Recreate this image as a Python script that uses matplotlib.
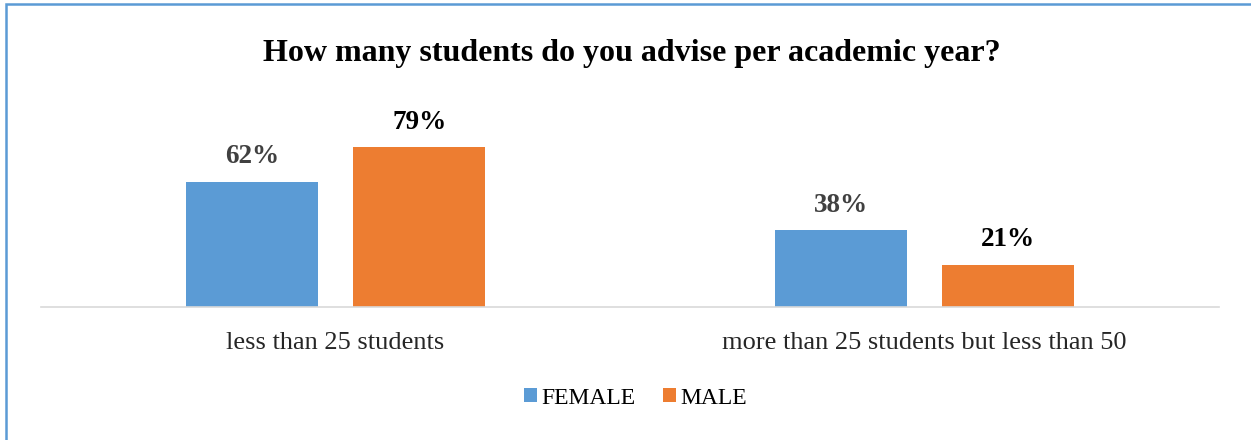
import matplotlib.pyplot as plt
from matplotlib.patches import Rectangle
import numpy as np

categorias = ['less than 25 students', 'more than 25 students but less than 50']
feminino = [62, 38]
masculino = [79, 21]
series = ['FEMALE', 'MALE']

plt.rcParams['font.family'] = ['Liberation Serif', 'DejaVu Serif']

fig = plt.figure(figsize=(12.51, 4.4), dpi=100)
ax = fig.add_axes([41 / 1251, 1 - 307 / 440, 1178 / 1251, 202 / 440])

x = np.arange(len(categorias))
largura = 0.223
desloc = 0.142
b1 = ax.bar(x - desloc, feminino, largura, color='#5B9BD5', label=series[0])
b2 = ax.bar(x + desloc, masculino, largura, color='#ED7D31', label=series[1])

for barra, v in zip(b1, feminino):
    ax.annotate(f'{v}%', (barra.get_x() + barra.get_width() / 2, v),
                textcoords='offset points', xytext=(0, 9), ha='center', va='bottom',
                fontsize=19.5, fontweight='bold', color='#404040')
for barra, v in zip(b2, masculino):
    ax.annotate(f'{v}%', (barra.get_x() + barra.get_width() / 2, v),
                textcoords='offset points', xytext=(0, 9), ha='center', va='bottom',
                fontsize=19.5, fontweight='bold', color='black')

ax.set_xlim(-0.5, 1.5)
ax.set_ylim(0, 100)
ax.set_xticks(x)
ax.set_xticklabels(categorias, fontsize=19, color='#262626')
ax.tick_params(axis='x', length=0, pad=18)
ax.set_yticks([])
for lado in ['top', 'right', 'left']:
    ax.spines[lado].set_visible(False)
ax.spines['bottom'].set_color('#D9D9D9')
ax.spines['bottom'].set_linewidth(1.2)

fig.text(0.505, 1 - 53 / 440, 'How many students do you advise per academic year?',
         ha='center', va='center', fontsize=23, fontweight='bold')

fig.legend(loc='center', bbox_to_anchor=(0.508, 1 - 398 / 440), ncol=2, frameon=False,
           fontsize=17, handlelength=0.55, handleheight=0.55, handletextpad=0.15,
           columnspacing=1.2)

# moldura azul
fig.add_artist(Rectangle((5.5 / 1251, -0.1), 1.2, 1 - 4.5 / 440 + 0.1,
                         transform=fig.transFigure, fill=False,
                         edgecolor='#5B9BD5', linewidth=1.8))

fig.savefig('out.png', dpi=100, facecolor='white')
